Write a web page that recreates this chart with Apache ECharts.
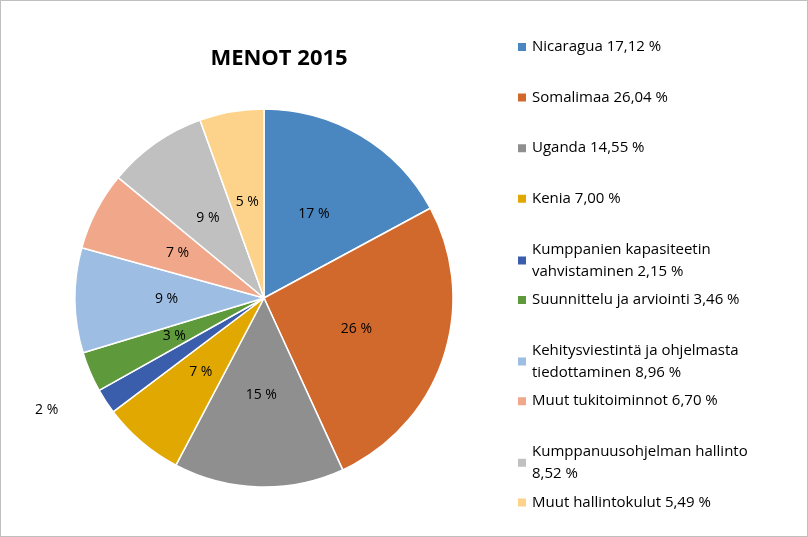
<!DOCTYPE html>
<html>
<head>
<meta charset="utf-8">
<script src="https://cdn.jsdelivr.net/npm/echarts@6/dist/echarts.min.js"></script>
<style>
  html, body { margin: 0; padding: 0; background: #fff; }
  #chart { width: 806px; height: 535px; border: 1px solid #bfbfbf; }
</style>
</head>
<body>
<div id="chart"></div>
<script>
// data
var names = ['Nicaragua', 'Somalimaa', 'Uganda', 'Kenia', 'Kumppanien kapasiteetin vahvistaminen',
  'Suunnittelu ja arviointi', 'Kehitysviestintä ja ohjelmasta tiedottaminen', 'Muut tukitoiminnot',
  'Kumppanuusohjelman hallinto', 'Muut hallintokulut'];
var shares = [17.12, 26.04, 14.55, 7.00, 2.15, 3.46, 8.96, 6.70, 8.52, 5.49];
var legendText = ['Nicaragua 17,12 %', 'Somalimaa 26,04 %', 'Uganda 14,55 %', 'Kenia 7,00 %',
  'Kumppanien kapasiteetin\nvahvistaminen 2,15 %', 'Suunnittelu ja arviointi 3,46 %',
  'Kehitysviestintä ja ohjelmasta\ntiedottaminen 8,96 %', 'Muut tukitoiminnot 6,70 %',
  'Kumppanuusohjelman hallinto\n8,52 %', 'Muut hallintokulut 5,49 %'];
var colors = ['#4a86c0', '#d2692c', '#8f8f8f', '#e0a800', '#3a5eab',
  '#5e9a3c', '#9dbde3', '#f1a78a', '#c0c0c0', '#fdd38b'];

var chart = echarts.init(document.getElementById('chart'));

var legends = names.map(function (n, i) {
  return {
    data: [n],
    left: 510,
    top: 30 + i * 50.6,
    itemWidth: 10,
    itemHeight: 10,
    icon: 'rect',
    selectedMode: false,
    formatter: function () { return legendText[i]; },
    textStyle: { fontFamily: 'Open Sans', fontSize: 15, color: '#000', lineHeight: 22 }
  };
});

var pieData = names.map(function (n, i) {
  var d = { name: n, value: shares[i], itemStyle: { color: colors[i] } };
  if (i === 4) d.label = { position: 'outside', distance: 8 };
  return d;
});

chart.setOption({
  animation: false,
  title: {
    text: 'MENOT 2015',
    left: 273, top: 42, textAlign: 'center',
    textStyle: { fontFamily: 'Open Sans', fontSize: 22, fontWeight: 'bold', color: '#000' }
  },
  legend: legends,
  series: [{
    type: 'pie',
    center: [263, 297],
    radius: 189,
    startAngle: 90,
    clockwise: true,
    label: {
      position: 'inner',
      formatter: function (p) { return Math.round(p.value) + ' %'; },
      fontFamily: 'Open Sans', fontSize: 14, color: '#000'
    },
    labelLine: { show: false },
    itemStyle: { borderColor: '#fff', borderWidth: 1.5 },
    data: pieData
  }]
});
</script>
</body>
</html>
